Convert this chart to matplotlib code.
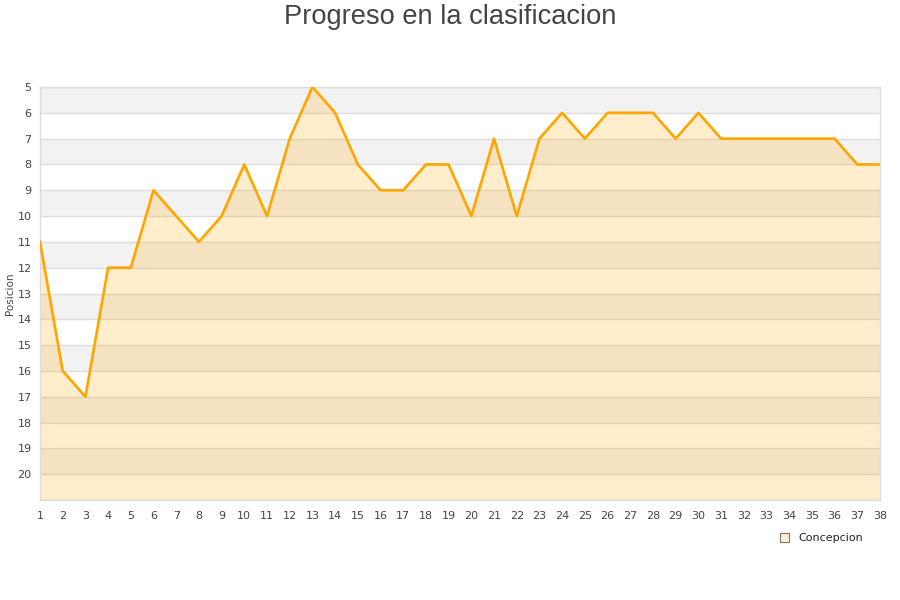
import numpy as np
import matplotlib
matplotlib.use("Agg")
import matplotlib.pyplot as plt
from matplotlib.patches import Rectangle

# Jornada (round) and position of the team
jornadas = list(range(1, 39))
posicion = [11, 16, 17, 12, 12, 9, 10, 11, 10, 8,
            10, 7, 5, 6, 8, 9, 9, 8, 8, 10,
            7, 10, 7, 6, 7, 6, 6, 6, 7, 6,
            7, 7, 7, 7, 7, 7, 8, 8]
equipo = "Concepcion"
y_labels = list(range(5, 21))

line_color = "#FFA500"
text_color = "#444444"

plt.rcParams['font.family'] = ['DejaVu Sans']

fig = plt.figure(figsize=(9, 6), dpi=100)
ax = fig.add_axes([40 / 900, 100 / 600, 840 / 900, 413 / 600])

y_top, y_bottom = 5, 21

# alternating background bands
for y in range(y_top, y_bottom, 2):
    ax.axhspan(y, y + 1, color="#f2f2f2", zorder=0, lw=0)

for y in range(y_top, y_bottom + 1):
    ax.axhline(y, color="#dddddd", lw=1, zorder=1)

ax.fill_between(jornadas, posicion, y_bottom, color=line_color, alpha=0.2,
                lw=0, zorder=2)
ax.plot(jornadas, posicion, color=line_color, lw=1.9, zorder=3)

ax.set_xlim(1, 38)
ax.set_ylim(y_bottom, y_top)
ax.set_xticks(jornadas)
ax.set_yticks(y_labels)
ax.tick_params(length=0, labelsize=8, colors=text_color, pad=6)
ax.tick_params(axis='x', pad=8)
for s in ax.spines.values():
    s.set_color("#dddddd")
    s.set_linewidth(1)

ax.set_ylabel("Posicion", fontsize=7.5, color=text_color, labelpad=4)
ax.yaxis.set_label_coords(-0.03, 0.5)

fig.suptitle("Progreso en la clasificacion", fontsize=19.6, color=text_color,
             family="Liberation Sans", y=0.993)

handle = Rectangle((0, 0), 1, 1, facecolor="#FFEDCC", edgecolor="#777777", lw=0.8)
fig.legend([handle], [equipo], loc="center", bbox_to_anchor=(0.913, 0.103),
           frameon=False, fontsize=8, handlelength=0.8, handleheight=0.8,
           handletextpad=0.8, labelcolor="#222222")

fig.savefig("out.png", dpi=100)
